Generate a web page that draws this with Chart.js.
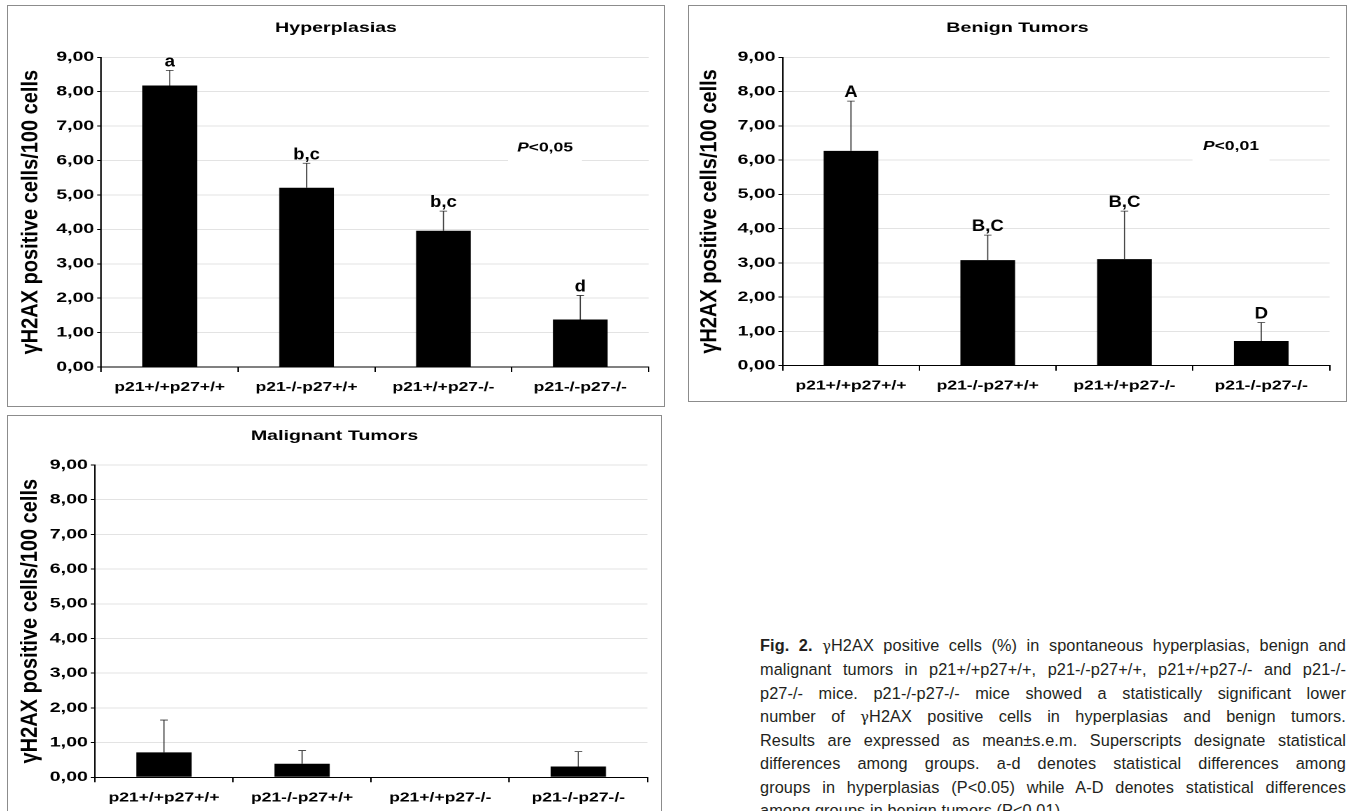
<!DOCTYPE html>
<html><head><meta charset="utf-8">
<script src="https://cdn.jsdelivr.net/npm/chart.js@4.4.1/dist/chart.umd.min.js"></script>
<style>
html,body{margin:0;padding:0;background:#fff;}
body{width:1352px;height:811px;overflow:hidden;position:relative;font-family:"Liberation Sans",Arial,sans-serif;}
.panel{position:absolute;border:1px solid #8c8c8c;box-sizing:border-box;overflow:hidden;background:#fff;}
.stretch{position:absolute;left:0;top:0;transform-origin:0 0;}
.caption{position:absolute;left:760px;top:634px;width:586px;font-size:16.3px;letter-spacing:0.1px;line-height:23.3px;color:#231f20;}
.caption div{text-align:justify;text-align-last:justify;white-space:nowrap;}
.caption div.last{text-align:left;text-align-last:left;}
.g{font-family:"DejaVu Serif",serif;font-size:14.5px;}
</style>
</head><body>
<div class="caption">
<div><b>Fig. 2.</b> <span class="g">γ</span>H2AX positive cells (%) in spontaneous hyperplasias, benign and</div>
<div>malignant tumors in p21+/+p27+/+, p21-/-p27+/+, p21+/+p27-/- and p21-/-</div>
<div>p27-/- mice. p21-/-p27-/- mice showed a statistically significant lower</div>
<div>number of <span class="g">γ</span>H2AX positive cells in hyperplasias and benign tumors.</div>
<div>Results are expressed as mean±s.e.m. Superscripts designate statistical</div>
<div>differences among groups. a-d denotes statistical differences among</div>
<div>groups in hyperplasias (P&lt;0.05) while A-D denotes statistical differences</div>
<div class="last">among groups in benign tumors (P&lt;0.01).</div>
</div>
<script>
// ---------- data ----------
const categories = ['p21+/+p27+/+', 'p21-/-p27+/+', 'p21+/+p27-/-', 'p21-/-p27-/-'];
const yTickLabels = ['0,00','1,00','2,00','3,00','4,00','5,00','6,00','7,00','8,00','9,00'];
const yAxisTitle = 'γH2AX positive cells/100 cells';

const hyperTitle = 'Hyperplasias';
const hyperMeans = [8.18, 5.21, 3.96, 1.38];
const hyperSem = [0.44, 0.71, 0.57, 0.70];
const hyperLetters = ['a', 'b,c', 'b,c', 'd'];
const hyperP = ['P', '<0,05'];

const benignTitle = 'Benign Tumors';
const benignMeans = [6.27, 3.08, 3.11, 0.72];
const benignSem = [1.45, 0.73, 1.40, 0.54];
const benignLetters = ['A', 'B,C', 'B,C', 'D'];
const benignP = ['P', '<0,01'];

const malignantTitle = 'Malignant Tumors';
const malignantMeans = [0.72, 0.39, 0, 0.31];
const malignantSem = [0.93, 0.38, 0, 0.43];
const malignantLetters = ['', '', '', ''];

// ---------- drawing ----------
const FAM = '"Liberation Sans", Arial, sans-serif';

const annotate = {
  id: 'annotate',
  afterDatasetsDraw(chart, args, o) {
    const ctx = chart.ctx, ys = chart.scales.y, meta = chart.getDatasetMeta(0);
    const ca = chart.chartArea;
    if (o.p) {
      const cx = ca.left + o.pfx * (ca.right - ca.left);
      const cy = ys.getPixelForValue(o.pval);
      const hw = o.pbw * (ca.right - ca.left) / 2;
      ctx.save();
      ctx.fillStyle = '#fff';
      ctx.fillRect(cx - hw, cy - 11, hw * 2, 27);
      ctx.fillStyle = '#000';
      ctx.textBaseline = 'middle';
      ctx.font = 'italic bold 12.5px ' + FAM;
      const w1 = ctx.measureText(o.p[0]).width;
      ctx.font = 'bold 12.5px ' + FAM;
      const w2 = ctx.measureText(o.p[1]).width;
      const x = cx - (w1 + w2) / 2;
      ctx.textAlign = 'left';
      ctx.font = 'italic bold 12.5px ' + FAM;
      ctx.fillText(o.p[0], x, cy);
      ctx.font = 'bold 12.5px ' + FAM;
      ctx.fillText(o.p[1], x + w1, cy);
      ctx.restore();
    }
    meta.data.forEach((bar, i) => {
      const m = o.means[i], s = o.sem[i];
      const yBar = ys.getPixelForValue(m), yTop = ys.getPixelForValue(m + s);
      ctx.save();
      if (s > 0) {
        ctx.strokeStyle = '#333';
        ctx.lineWidth = 0.8;
        ctx.beginPath();
        ctx.moveTo(bar.x, yBar);
        ctx.lineTo(bar.x, yTop);
        ctx.moveTo(bar.x - 2.7, yTop);
        ctx.lineTo(bar.x + 2.7, yTop);
        ctx.stroke();
      }
      if (o.letters[i]) {
        ctx.fillStyle = '#000';
        ctx.font = 'bold 16.5px ' + FAM;
        ctx.textAlign = 'center';
        ctx.textBaseline = 'alphabetic';
        ctx.translate(bar.x, yTop - 4);
        ctx.scale(0.8, 1);
        ctx.fillText(o.letters[i], 0, 0);
      }
      ctx.restore();
    });
  },
  afterDraw(chart, args, o) {
    const ctx = chart.ctx, ca = chart.chartArea;
    ctx.save();
    ctx.fillStyle = '#000';
    ctx.font = 'bold 14px ' + FAM;
    ctx.textAlign = 'center';
    ctx.textBaseline = 'middle';
    ctx.fillText(o.title, chart.width / 2, ca.top - 29);
    ctx.restore();
    ctx.save();
    ctx.fillStyle = '#000';
    ctx.font = 'bold 20px ' + FAM;
    ctx.textAlign = 'center';
    ctx.textBaseline = 'middle';
    ctx.translate(o.ylabX, (ca.top + ca.bottom) / 2);
    ctx.scale(0.84, 1);
    ctx.rotate(-Math.PI / 2);
    ctx.fillText(o.ytitle, 0, 0);
    ctx.restore();
  }
};

function makePanel(g, title, means, sem, letters, p) {
  const wrap = document.createElement('div');
  wrap.className = 'panel';
  wrap.style.left = (g.x - 1) + 'px';
  wrap.style.top = (g.y - 1) + 'px';
  wrap.style.width = (g.w + 2) + 'px';
  wrap.style.height = (g.h + 2) + 'px';
  const lw = Math.round(g.w / 1.4);
  const S = g.w / lw;
  const inner = document.createElement('div');
  inner.className = 'stretch';
  inner.style.width = lw + 'px';
  inner.style.height = g.h + 'px';
  inner.style.transform = 'scaleX(' + S + ')';
  const canvas = document.createElement('canvas');
  canvas.width = lw; canvas.height = g.h;
  inner.appendChild(canvas); wrap.appendChild(inner); document.body.appendChild(wrap);
  const toL = dx => (dx - g.x) / S;
  const yW = toL(g.plotL);
  const padR = lw - toL(g.plotR);
  const padT = g.plotT - g.y;
  const xH = g.y + g.h - g.plotB;
  const pfx = p ? (g.pX - g.plotL) / (g.plotR - g.plotL) : 0;
  const pbw = p ? g.pBoxW / (g.plotR - g.plotL) : 0;
  new Chart(canvas, {
    type: 'bar',
    data: {
      labels: categories,
      datasets: [{ data: means, backgroundColor: '#000', borderWidth: 0, barPercentage: 0.4, categoryPercentage: 1 }]
    },
    plugins: [annotate],
    options: {
      responsive: false, animation: false, devicePixelRatio: 2,
      layout: { padding: { left: 0, right: padR, top: padT, bottom: 0 } },
      plugins: {
        legend: { display: false }, tooltip: { enabled: false }, title: { display: false },
        annotate: { title, means, sem, letters, p, pfx, pbw, pval: g.pVal, ylabX: toL(g.ylabX), ytitle: yAxisTitle }
      },
      scales: {
        x: {
          grid: { offset: true, drawOnChartArea: false, drawTicks: true, tickLength: 5, tickColor: '#000', tickWidth: 1 },
          border: { color: '#000', width: 1 },
          ticks: { color: '#000', font: { family: FAM, size: 12.5, weight: 'bold' }, padding: 8, maxRotation: 0, autoSkip: false },
          afterFit(s) { s.height = xH; }
        },
        y: {
          min: 0, max: 9,
          ticks: { stepSize: 1, color: '#000', font: { family: FAM, size: 14, weight: 'bold' }, padding: 2,
                   callback: v => yTickLabels[Math.round(v)] },
          grid: { color: '#e3e3e3', tickColor: '#000', tickLength: 3, lineWidth: 1 },
          border: { color: '#000', width: 1 },
          title: { display: false },
          afterFit(s) { s.width = yW; }
        }
      }
    }
  });
}

makePanel({ x: 8, y: 6, w: 656, h: 400, plotL: 101.3, plotR: 648.7, plotT: 57.3, plotB: 367, ylabX: 31,
            pX: 545, pVal: 6.37, pBoxW: 74 }, hyperTitle, hyperMeans, hyperSem, hyperLetters, hyperP);
makePanel({ x: 689, y: 6, w: 657, h: 395, plotL: 782.6, plotR: 1329.6, plotT: 57.3, plotB: 365.7, ylabX: 710,
            pX: 1231, pVal: 6.39, pBoxW: 77 }, benignTitle, benignMeans, benignSem, benignLetters, benignP);
makePanel({ x: 8, y: 416, w: 653, h: 400, plotL: 94.9, plotR: 647.4, plotT: 465, plotB: 777.3, ylabX: 30,
            pX: 0, pVal: 0, pBoxW: 0 }, malignantTitle, malignantMeans, malignantSem, malignantLetters, null);
</script>
</body></html>
